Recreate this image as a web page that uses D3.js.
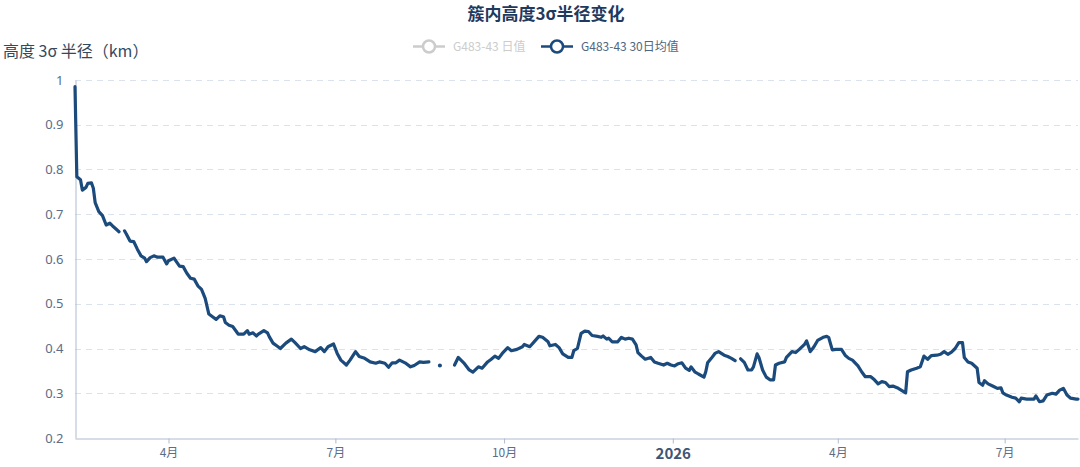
<!DOCTYPE html>
<html>
<head>
<meta charset="utf-8">
<script src="https://cdn.jsdelivr.net/npm/d3@7/dist/d3.min.js"></script>
<style>
  html, body { margin: 0; padding: 0; background: #fff; }
  svg { display: block; }
  text { font-family: "Noto Sans CJK SC", "Noto Sans", sans-serif; }
</style>
</head>
<body>
<svg id="chart" width="1080" height="467"></svg>
<script>
const titleText = "簇内高度3σ半径变化";
const yAxisName = "高度 3σ 半径（km）";
const seriesNames = ["G483-43 日值", "G483-43 30日均值"];
const seriesVisible = [false, true];

const yTicks = [0.2, 0.3, 0.4, 0.5, 0.6, 0.7, 0.8, 0.9, 1];
const yTickLabels = ["0.2", "0.3", "0.4", "0.5", "0.6", "0.7", "0.8", "0.9", "1"];
const xTickDates = ["2025-04-01", "2025-07-01", "2025-10-01", "2026-01-01", "2026-04-01", "2026-07-01"];
const xTickLabels = ["4月", "7月", "10月", "2026", "4月", "7月"];
const xTickBold = [false, false, false, true, false, false];

const dates = [
"2025-02-09","2025-02-10","2025-02-12","2025-02-13","2025-02-15","2025-02-16","2025-02-18","2025-02-19","2025-02-20","2025-02-22",
"2025-02-24","2025-02-26","2025-02-28","2025-03-02","2025-03-05","2025-03-06","2025-03-07","2025-03-08","2025-03-09","2025-03-11",
"2025-03-13","2025-03-15","2025-03-17","2025-03-19","2025-03-20","2025-03-22","2025-03-24","2025-03-26","2025-03-29","2025-03-31",
"2025-04-01","2025-04-04","2025-04-05","2025-04-07","2025-04-09","2025-04-11","2025-04-13","2025-04-15","2025-04-17","2025-04-19",
"2025-04-21","2025-04-23","2025-04-25","2025-04-27","2025-04-29","2025-05-01","2025-05-02","2025-05-04","2025-05-06","2025-05-08",
"2025-05-09","2025-05-12","2025-05-14","2025-05-15","2025-05-17","2025-05-19","2025-05-20","2025-05-23","2025-05-25","2025-05-26",
"2025-05-28","2025-05-30","2025-06-01","2025-06-04","2025-06-07","2025-06-09","2025-06-12","2025-06-14","2025-06-17","2025-06-20",
"2025-06-23","2025-06-25","2025-06-27","2025-06-30","2025-07-02","2025-07-04","2025-07-07","2025-07-09","2025-07-12","2025-07-14",
"2025-07-17","2025-07-20","2025-07-23","2025-07-25","2025-07-28","2025-07-30","2025-08-01","2025-08-03","2025-08-05","2025-08-08",
"2025-08-11","2025-08-13","2025-08-16","2025-08-18","2025-08-21","2025-08-22","2025-08-26","2025-08-27","2025-08-28","2025-09-03",
"2025-09-04","2025-09-06","2025-09-09","2025-09-12","2025-09-14","2025-09-17","2025-09-19","2025-09-22","2025-09-24","2025-09-26",
"2025-09-28","2025-09-30","2025-10-03","2025-10-05","2025-10-08","2025-10-11","2025-10-12","2025-10-15","2025-10-17","2025-10-20",
"2025-10-22","2025-10-25","2025-10-26","2025-10-29","2025-10-31","2025-11-02","2025-11-05","2025-11-07","2025-11-08","2025-11-10",
"2025-11-12","2025-11-14","2025-11-16","2025-11-18","2025-11-21","2025-11-23","2025-11-24","2025-11-26","2025-11-27","2025-11-29",
"2025-12-02","2025-12-04","2025-12-06","2025-12-08","2025-12-10","2025-12-12","2025-12-13","2025-12-15","2025-12-17","2025-12-20",
"2025-12-22","2025-12-24","2025-12-27","2025-12-29","2025-12-31","2026-01-02","2026-01-04","2026-01-06","2026-01-08","2026-01-10",
"2026-01-11","2026-01-13","2026-01-15","2026-01-18","2026-01-19","2026-01-20","2026-01-22","2026-01-24","2026-01-26","2026-01-29",
"2026-01-31","2026-02-02","2026-02-04","2026-02-05","2026-02-06","2026-02-07","2026-02-09","2026-02-11","2026-02-13","2026-02-14",
"2026-02-16","2026-02-17","2026-02-19","2026-02-21","2026-02-23","2026-02-25","2026-02-26","2026-02-28","2026-03-03","2026-03-04",
"2026-03-07","2026-03-09","2026-03-11","2026-03-14","2026-03-15","2026-03-17","2026-03-19","2026-03-21","2026-03-24","2026-03-26",
"2026-03-27","2026-03-29","2026-03-31","2026-04-03","2026-04-05","2026-04-07","2026-04-09","2026-04-12","2026-04-14","2026-04-16",
"2026-04-19","2026-04-21","2026-04-23","2026-04-25","2026-04-27","2026-04-29","2026-05-01","2026-05-04","2026-05-06","2026-05-08",
"2026-05-09","2026-05-11","2026-05-14","2026-05-16","2026-05-18","2026-05-20","2026-05-22","2026-05-25","2026-05-27","2026-05-29",
"2026-05-31","2026-06-02","2026-06-04","2026-06-06","2026-06-08","2026-06-09","2026-06-11","2026-06-13","2026-06-16","2026-06-17",
"2026-06-19","2026-06-20","2026-06-22","2026-06-25","2026-06-27","2026-06-29","2026-06-30","2026-07-02","2026-07-05","2026-07-07",
"2026-07-09","2026-07-10","2026-07-13","2026-07-15","2026-07-17","2026-07-18","2026-07-20","2026-07-22","2026-07-24","2026-07-27",
"2026-07-29","2026-07-31","2026-08-02","2026-08-04","2026-08-06","2026-08-09","2026-08-10"
];

const values30 = [
0.985,0.784,0.777,0.754,0.760,0.769,0.770,0.758,0.726,0.706,
0.697,0.676,0.680,0.672,0.661,null,null,0.663,0.656,0.640,
0.639,0.622,0.607,0.602,0.594,0.603,0.607,0.604,0.604,0.589,
0.596,0.602,0.596,0.584,0.583,0.568,0.557,0.555,0.540,0.532,
0.512,0.477,0.471,0.465,0.473,0.471,0.458,0.452,0.449,0.438,
0.432,0.432,0.440,0.432,0.435,0.428,0.432,0.440,0.435,0.426,
0.412,0.406,0.400,0.412,0.421,0.413,0.400,0.404,0.397,0.393,
0.402,0.393,0.404,0.410,0.389,0.374,0.363,0.374,0.393,0.382,
0.378,0.370,0.367,0.370,0.367,0.358,0.368,0.368,0.374,0.368,
0.359,0.362,0.370,0.369,0.370,null,null,0.362,null,null,
0.363,0.380,0.368,0.352,0.347,0.359,0.356,0.370,0.376,0.383,
0.378,0.389,0.402,0.395,0.398,0.404,0.409,0.404,0.413,0.427,
0.425,0.415,0.406,0.409,0.402,0.388,0.380,0.380,0.395,0.400,
0.434,0.439,0.438,0.429,0.427,0.425,0.428,0.421,0.423,0.415,
0.415,0.425,0.421,0.423,0.421,0.408,0.391,0.383,0.376,0.380,
0.370,0.367,0.363,0.367,0.363,0.361,0.366,0.368,0.356,0.351,
0.359,0.348,0.343,0.336,0.348,0.368,0.378,0.389,0.393,0.385,
0.382,0.378,0.373,null,null,0.377,0.369,0.352,0.352,0.359,
0.388,0.380,0.352,0.336,0.330,0.330,0.363,0.367,0.370,0.380,
0.393,0.391,0.398,0.410,0.417,0.393,0.404,0.418,0.425,0.427,
0.425,0.397,0.398,0.398,0.385,0.378,0.374,0.361,0.348,0.337,
0.337,0.330,0.321,0.326,0.324,0.315,0.316,0.311,0.306,0.301,
0.348,0.352,0.356,0.359,0.383,0.376,0.384,0.385,0.387,0.393,
0.387,0.392,0.400,0.413,0.413,0.380,0.370,0.367,0.356,0.324,
0.318,0.328,0.321,0.315,0.311,0.312,0.301,0.296,0.291,0.289,
0.281,0.289,0.287,0.287,0.287,0.294,0.281,0.283,0.296,0.300,
0.298,0.307,0.311,0.296,0.289,0.287,0.287
];

const parse = d3.timeParse("%Y-%m-%d");
const data = dates.map((d, i) => ({ date: parse(d), value: values30[i] }));

const svg = d3.select("#chart");
const margin = { left: 75, right: 2, top: 80, bottom: 29 };
const W = 1080, H = 467;

const x = d3.scaleTime()
  .domain(d3.extent(data, d => d.date))
  .range([margin.left, W - margin.right]);
const y = d3.scaleLinear()
  .domain([0.2, 1])
  .range([H - margin.bottom, margin.top]);

// grid lines
svg.append("g")
  .selectAll("line")
  .data(yTicks.filter(t => t > 0.2))
  .join("line")
  .attr("x1", margin.left).attr("x2", W - margin.right)
  .attr("y1", d => Math.round(y(d)) + 0.5).attr("y2", d => Math.round(y(d)) + 0.5)
  .attr("stroke", "#d9e2ed").attr("stroke-width", 1)
  .attr("stroke-dasharray", "6,5");

// y axis
const yAxis = d3.axisLeft(y)
  .tickValues(yTicks)
  .tickFormat((d, i) => yTickLabels[i])
  .tickSize(0)
  .tickPadding(12);
const gy = svg.append("g")
  .attr("transform", `translate(${margin.left + 0.5},0)`)
  .call(yAxis);
gy.select(".domain").attr("stroke", "#aebbd0").attr("stroke-width", 1);
gy.selectAll("text")
  .attr("fill", "#5b6d88")
  .style("font-size", "13px")
  .style("font-family", "'Noto Sans', sans-serif");

// x axis
const xAxis = d3.axisBottom(x)
  .tickValues(xTickDates.map(parse))
  .tickFormat((d, i) => xTickLabels[i])
  .tickSize(5)
  .tickSizeOuter(0)
  .tickPadding(5);
const gx = svg.append("g")
  .attr("transform", `translate(0,${Math.round(y(0.2)) + 0.5})`)
  .call(xAxis);
gx.select(".domain").attr("stroke", "#aebbd0").attr("stroke-width", 1.2);
gx.selectAll(".tick line").attr("stroke", "#aebbd0");
gx.selectAll("text")
  .attr("fill", (d, i) => xTickBold[i] ? "#3f5573" : "#5b6d88")
  .style("font-size", (d, i) => xTickBold[i] ? "15px" : "12px")
  .style("font-weight", (d, i) => xTickBold[i] ? "bold" : "normal");

// line
const line = d3.line()
  .defined(d => d.value !== null)
  .x(d => x(d.date))
  .y(d => y(d.value));

svg.append("path")
  .datum(data)
  .attr("fill", "none")
  .attr("stroke", "#1b4a7c")
  .attr("stroke-width", 3.2)
  .attr("stroke-linejoin", "round")
  .attr("stroke-linecap", "round")
  .attr("d", line);

// isolated points (no defined neighbours) shown as dots
const isolated = data.filter((d, i) => d.value !== null &&
  (i === 0 || data[i - 1].value === null) &&
  (i === data.length - 1 || data[i + 1].value === null));
svg.append("g").selectAll("circle")
  .data(isolated)
  .join("circle")
  .attr("cx", d => x(d.date))
  .attr("cy", d => y(d.value))
  .attr("r", 2)
  .attr("fill", "#1b4a7c");

// title
svg.append("text")
  .attr("x", 546).attr("y", 20)
  .attr("text-anchor", "middle")
  .attr("fill", "#1f3a5f")
  .style("font-size", "17px")
  .style("font-weight", "bold")
  .text(titleText);

// y axis name
svg.append("text")
  .attr("x", 3).attr("y", 57)
  .attr("fill", "#34495e")
  .style("font-size", "16px")
  .text(yAxisName);

// legend
const legendColors = ["#cccccc", "#1b4a7c"];
const legendTextColors = ["#cccccc", "#4f6680"];
const legendX = [413, 541];
const lg = svg.append("g");
seriesNames.forEach((name, i) => {
  const g = lg.append("g").attr("transform", `translate(${legendX[i]},46.5)`);
  g.append("line").attr("x1", 0).attr("x2", 32).attr("y1", 0).attr("y2", 0)
    .attr("stroke", legendColors[i]).attr("stroke-width", 2.5);
  g.append("circle").attr("cx", 16).attr("cy", 0).attr("r", 6)
    .attr("fill", "#fff").attr("stroke", legendColors[i]).attr("stroke-width", 2.5);
  g.append("text").attr("x", 40).attr("y", 4.5)
    .attr("fill", legendTextColors[i])
    .style("font-size", "12px")
    .text(name);
});
</script>
</body>
</html>
